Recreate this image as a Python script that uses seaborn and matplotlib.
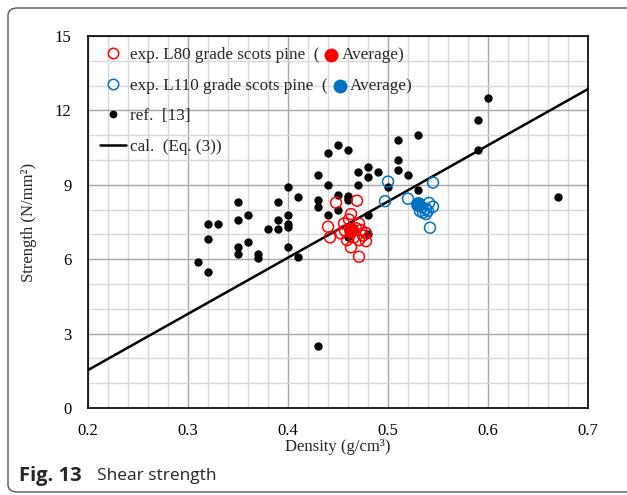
import matplotlib
matplotlib.use("Agg")
from matplotlib import pyplot as plt
from matplotlib.lines import Line2D
from matplotlib.patches import FancyBboxPatch
from matplotlib.ticker import MultipleLocator
import pandas as pd
import seaborn as sns

# ref. [13]
ref_density = [0.31, 0.32, 0.32, 0.32, 0.33, 0.35, 0.35, 0.35, 0.35, 0.36, 0.36,
               0.37, 0.37, 0.38, 0.39, 0.39, 0.39, 0.40, 0.40, 0.40, 0.40, 0.40,
               0.41, 0.41, 0.43, 0.43, 0.43, 0.43, 0.44, 0.44, 0.44, 0.45, 0.45,
               0.45, 0.46, 0.46, 0.46, 0.46, 0.46, 0.47, 0.47, 0.48, 0.48, 0.48,
               0.48, 0.49, 0.50, 0.51, 0.51, 0.51, 0.52, 0.53, 0.53, 0.59, 0.59,
               0.60, 0.67]
ref_strength = [5.9, 5.5, 6.8, 7.4, 7.4, 6.2, 6.5, 7.6, 8.3, 6.7, 7.8,
                6.05, 6.2, 7.2, 7.2, 7.6, 8.3, 6.5, 7.3, 7.4, 7.8, 8.9,
                6.1, 8.5, 2.5, 8.1, 8.4, 9.4, 7.8, 9.0, 10.3, 8.0, 8.6,
                10.6, 6.9, 8.4, 8.55, 10.4, 8.45, 9.0, 9.5, 7.0, 7.8, 9.3,
                9.7, 9.5, 8.9, 9.6, 10.0, 10.8, 9.4, 8.8, 11.0, 10.4, 11.6,
                12.5, 8.5]

# exp. L80 grade scots pine
l80_density = [0.448, 0.469, 0.463, 0.440, 0.442, 0.456, 0.471, 0.473, 0.453, 0.466,
               0.471, 0.478, 0.463, 0.471, 0.459, 0.475, 0.461, 0.468, 0.457, 0.478]
l80_strength = [8.28, 8.36, 7.82, 7.31, 6.88, 7.44, 7.44, 7.18, 7.04, 6.88,
                6.77, 6.73, 6.48, 6.10, 6.77, 6.95, 7.60, 7.25, 7.15, 7.05]
l80_avg = [0.463, 7.18]

# exp. L110 grade scots pine
l110_density = [0.500, 0.545, 0.497, 0.520, 0.541, 0.545, 0.538, 0.535, 0.532,
                0.540, 0.542, 0.534, 0.538]
l110_strength = [9.13, 9.09, 8.34, 8.44, 8.27, 8.12, 8.03, 7.88, 7.94,
                 7.95, 7.27, 8.10, 7.82]
l110_avg = [0.530, 8.23]

# cal. (Eq. (3))
cal_density = [0.2, 0.7]
cal_strength = [1.53, 12.86]

RED = "#FF0000"
BLUE = "#0070C0"
FS = 12.3

sns.set_style("white")
plt.rcParams["font.family"] = ["Liberation Serif", "DejaVu Serif"]

fig = plt.figure(figsize=(6.27, 4.95), dpi=100)
W, H = 627, 495
ax = fig.add_axes([88 / W, 1 - 408 / H, 500 / W, 372 / H])

ref = pd.DataFrame({"density": ref_density, "strength": ref_strength})
l80 = pd.DataFrame({"density": l80_density, "strength": l80_strength})
l110 = pd.DataFrame({"density": l110_density, "strength": l110_strength})
cal = pd.DataFrame({"density": cal_density, "strength": cal_strength})

sns.scatterplot(data=ref, x="density", y="strength", ax=ax, color="black",
                s=36, linewidth=0, zorder=3)
sns.lineplot(data=cal, x="density", y="strength", ax=ax, color="black",
             lw=1.8, zorder=4)
sns.scatterplot(data=l80, x="density", y="strength", ax=ax, facecolor="none",
                edgecolor=RED, s=62, linewidth=1.1, zorder=5)
sns.scatterplot(data=l110, x="density", y="strength", ax=ax, facecolor="none",
                edgecolor=BLUE, s=62, linewidth=1.1, zorder=5)
sns.scatterplot(x=[l80_avg[0]], y=[l80_avg[1]], ax=ax, color=RED, s=115,
                linewidth=0, zorder=6)
sns.scatterplot(x=[l110_avg[0]], y=[l110_avg[1]], ax=ax, color=BLUE, s=115,
                linewidth=0, zorder=6)

ax.set_xlim(0.2, 0.7)
ax.set_ylim(0, 15)
ax.xaxis.set_major_locator(MultipleLocator(0.1))
ax.xaxis.set_minor_locator(MultipleLocator(0.02))
ax.yaxis.set_major_locator(MultipleLocator(3))
ax.yaxis.set_minor_locator(MultipleLocator(1))
ax.grid(which="minor", color="#d9d9d9", lw=1)
ax.grid(which="major", color="#a6a6a6", lw=1)
ax.set_axisbelow(True)
ax.tick_params(which="both", length=0, labelsize=12, colors="black")
ax.tick_params(axis="x", pad=11)
ax.tick_params(axis="y", pad=12)
for sp in ax.spines.values():
    sp.set_color("black")
    sp.set_linewidth(1.2)

ax.set_xlabel("Density (g/cm³)", fontsize=12, labelpad=0)
ax.set_ylabel("Strength (N/mm²)", fontsize=12, labelpad=13)

handles = [
    Line2D([], [], ls="", marker="o", mfc="none", mec=RED, ms=7.5, mew=1.1),
    Line2D([], [], ls="", marker="o", mfc="none", mec=BLUE, ms=7.5, mew=1.1),
    Line2D([], [], ls="", marker="o", color="black", ms=5.6, mew=0),
    Line2D([], [], color="black", lw=1.8),
]
labels = ["exp. L80 grade scots pine  (", "exp. L110 grade scots pine  (",
          "ref.  [13]", "cal.  (Eq. (3))"]
leg = ax.legend(handles, labels, loc="upper left", bbox_to_anchor=(0.024, 0.970),
                frameon=False, fontsize=FS, borderpad=0, borderaxespad=0,
                handlelength=1.55, handletextpad=0.2, labelspacing=0.85)

# the "( ● Average)" part that follows the first two entries
fig.canvas.draw()
inv = fig.transFigure.inverted()
for txt, col in zip(leg.get_texts()[:2], [RED, BLUE]):
    bb = txt.get_window_extent()
    yc = (bb.y0 + bb.y1) / 2
    mx, my = inv.transform((bb.x1 + 12, yc))
    fig.add_artist(Line2D([mx], [my], ls="", marker="o", color=col, ms=10,
                          mew=0, transform=fig.transFigure))
    tx, ty = inv.transform((bb.x1 + 22, yc))
    fig.text(tx, ty, "Average)", fontsize=FS, va="center", ha="left")

# rounded frame around the figure and caption
fig.add_artist(FancyBboxPatch((8 / W, 3 / H), 660 / W, 484 / H,
                              boxstyle="round,pad=0,rounding_size=0.015",
                              transform=fig.transFigure, fill=False,
                              ec="#555555", lw=1.0))
fig.text(19 / W, 1 - 476 / H, "Fig. 13", family=["Open Sans", "DejaVu Sans"],
         fontweight="bold", fontsize=14.5, va="center")
fig.text(97 / W, 1 - 476 / H, "Shear strength", family=["Open Sans", "DejaVu Sans"],
         fontsize=12.5, va="center")

fig.savefig("out.png", dpi=100)
